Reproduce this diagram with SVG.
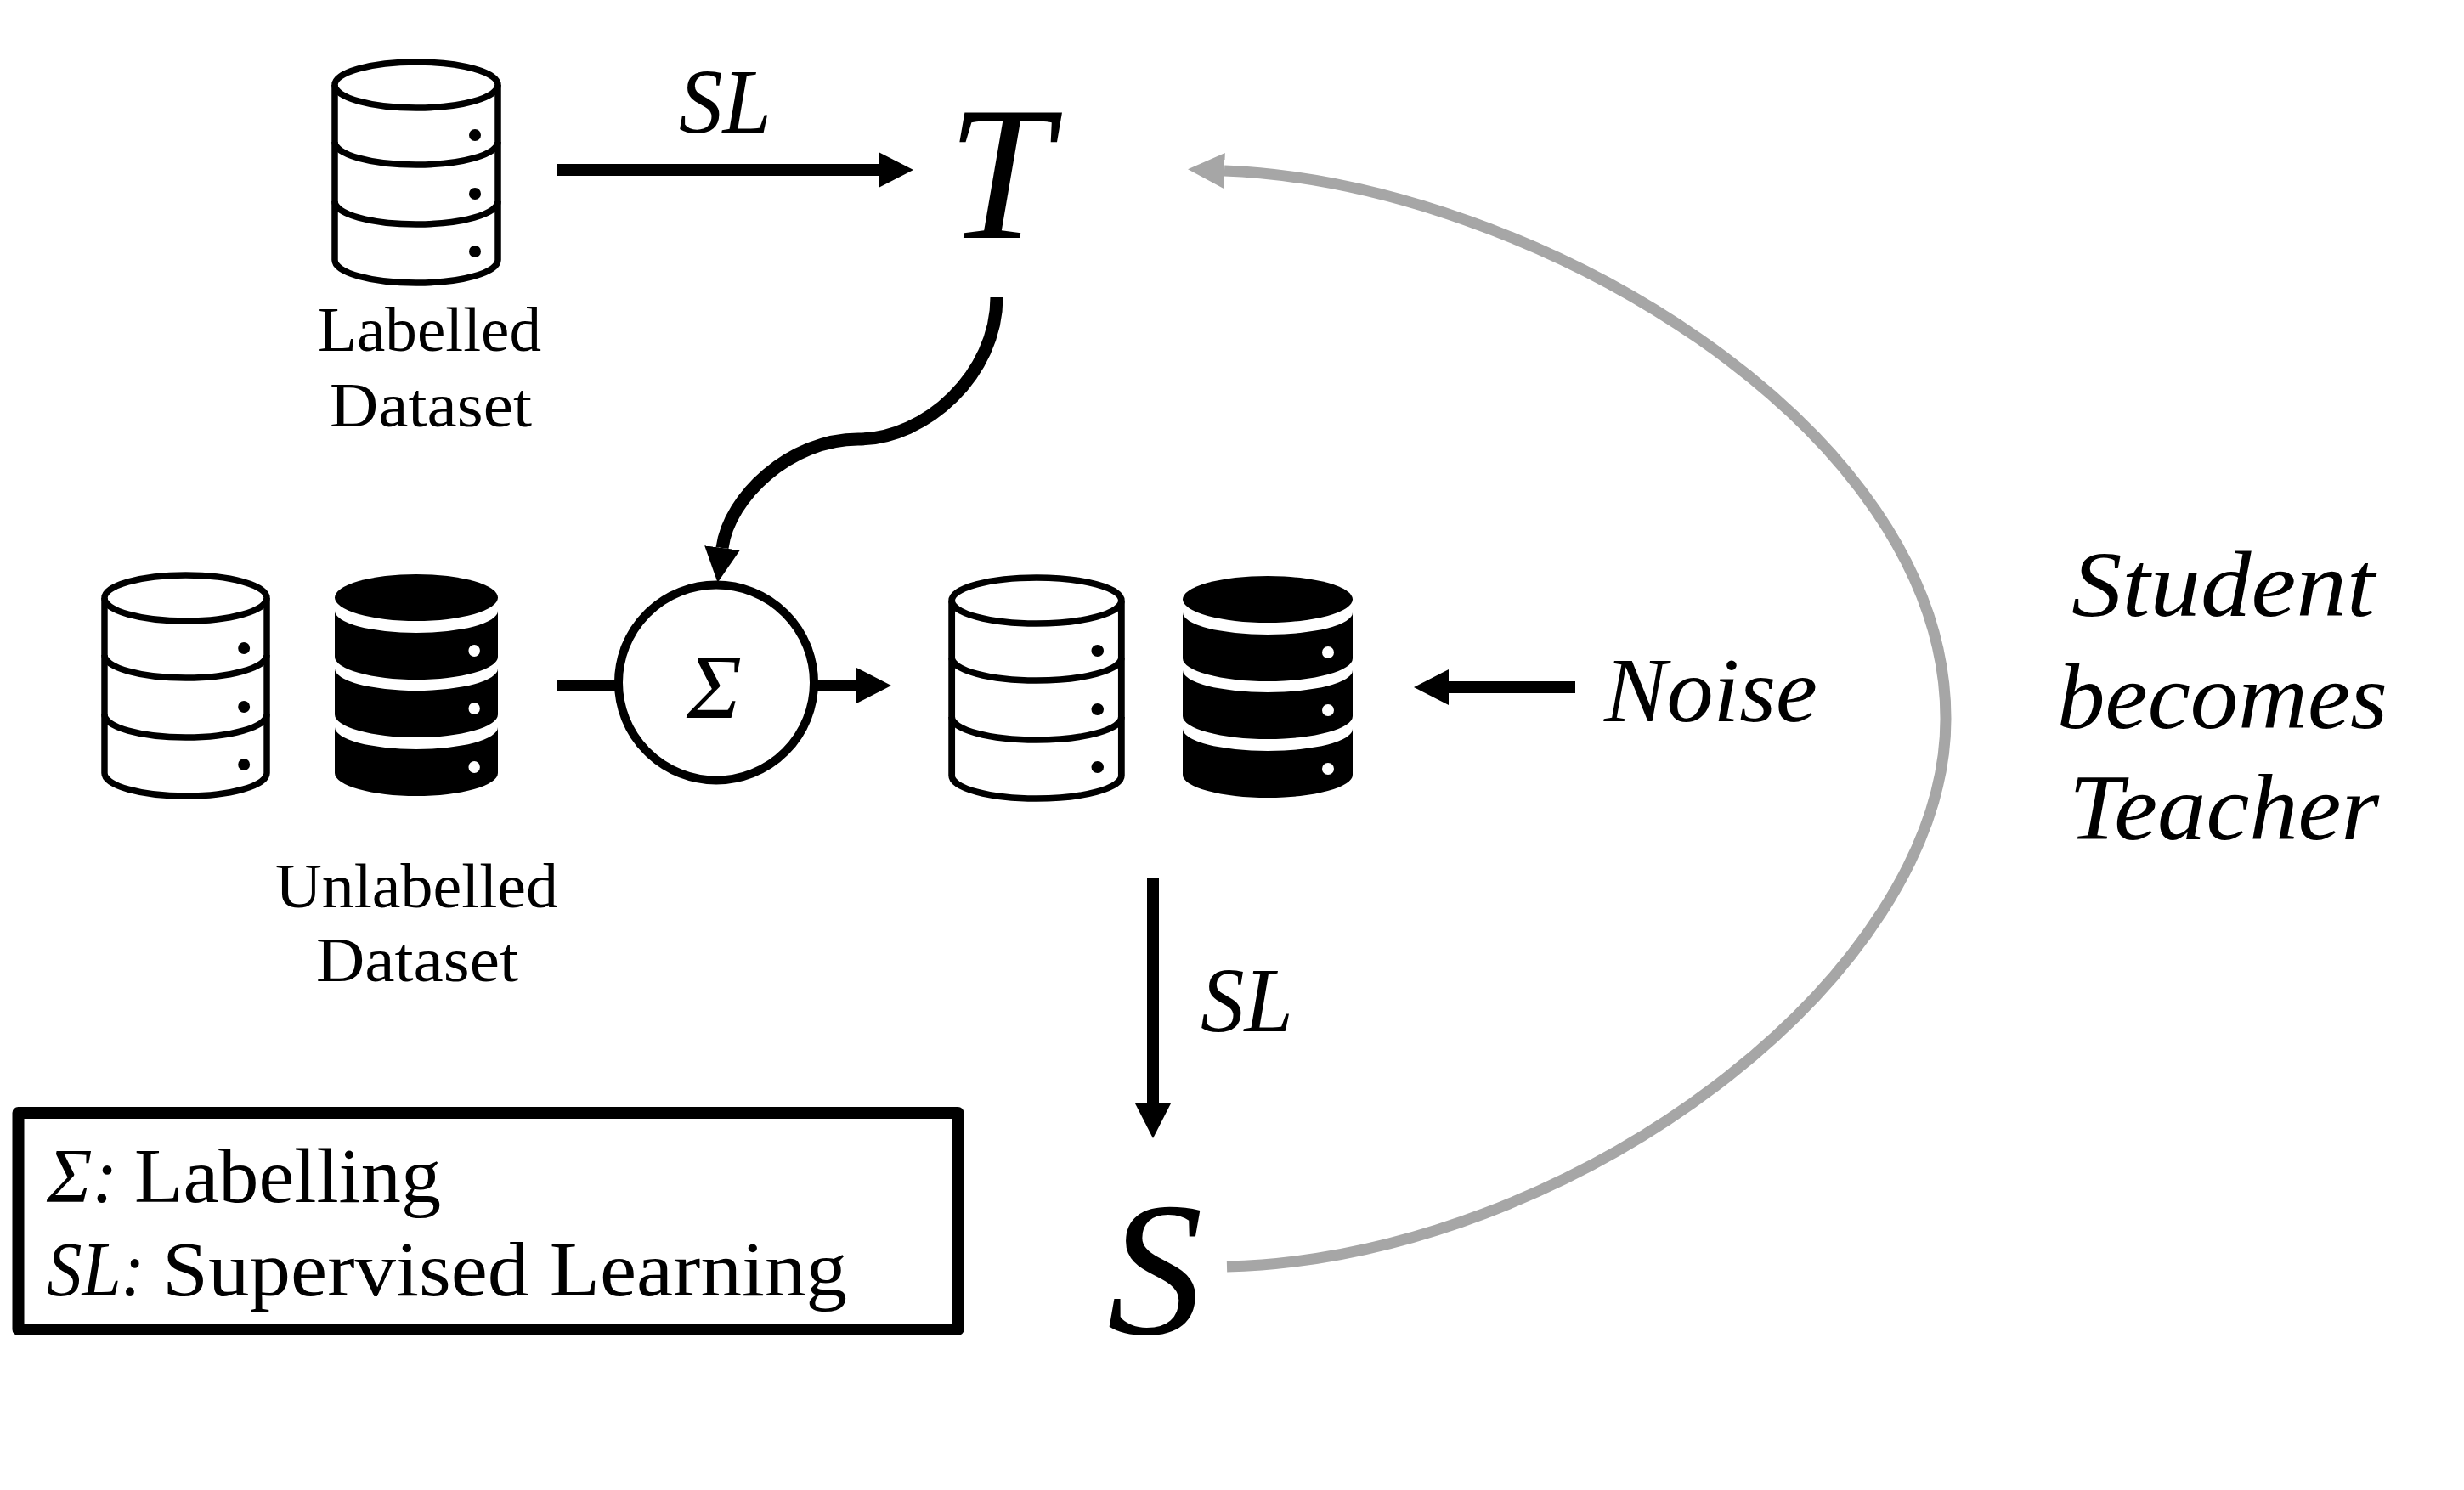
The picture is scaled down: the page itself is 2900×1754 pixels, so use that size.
<svg xmlns="http://www.w3.org/2000/svg" width="2900" height="1754" viewBox="0 0 2900 1754">
<style>
text{font-family:"Liberation Serif","Times New Roman",serif;fill:#000}
.i{font-style:italic}
.lab{font-size:74px}
.mid{font-size:108px}
.big{font-size:224px}
.leg{font-size:92px}
.sbt{font-size:110px}
.cl{fill:none;stroke:#000;stroke-width:14}
.gr{fill:none;stroke:#a6a6a6;stroke-width:13}
.ol{fill:#fff;stroke:none}
.olc{fill:none;stroke:#000;stroke-width:7.5}
</style>
<defs>
<marker id="ah" markerUnits="userSpaceOnUse" markerWidth="42" markerHeight="44" refX="0" refY="22" orient="auto"><path d="M0 1L41 22L0 43Z" fill="#000"/></marker>
<marker id="ag" markerUnits="userSpaceOnUse" markerWidth="44" markerHeight="44" refX="0" refY="22" orient="auto"><path d="M0 1L43 22L0 43Z" fill="#a6a6a6"/></marker>
<g id="cylO">
<path class="ol" d="M4 31V237A96 27 0 0 0 196 237V31Z"/>
<path class="olc" d="M4 31V237A96 27 0 0 0 196 237V31"/>
<ellipse class="olc" cx="100" cy="31" rx="96" ry="27"/>
<path class="olc" d="M4 98A96 27 0 0 0 196 98M4 168A96 27 0 0 0 196 168"/>
<circle cx="169" cy="90" r="7"/><circle cx="169" cy="159" r="7"/><circle cx="169" cy="227" r="7"/>
</g>
<g id="cylB">
<ellipse cx="100" cy="27.5" rx="100" ry="27.5"/>
<path d="M0 43A100 26 0 0 0 200 43V97A100 27 0 0 1 0 97Z"/>
<path d="M0 111A100 26 0 0 0 200 111V165A100 27 0 0 1 0 165Z"/>
<path d="M0 180A100 26 0 0 0 200 180V234A100 27 0 0 1 0 234Z"/>
<circle cx="171" cy="90" r="7" fill="#fff"/><circle cx="171" cy="158" r="7" fill="#fff"/><circle cx="171" cy="227" r="7" fill="#fff"/>
</g>
</defs>
<rect width="2900" height="1754" fill="#fff"/>
<g id="connectors">
<path class="cl" d="M655 200H1034" marker-end="url(#ah)"/>
<path class="cl" style="stroke-width:15" d="M1173 350C1173 440 1090 517 1010 517C930 517 858 585 850 645" marker-end="url(#ah)"/>
<path class="cl" d="M655 807H730"/>
<path class="cl" d="M955 807H1008" marker-end="url(#ah)"/>
<path class="cl" d="M1854 809H1705" marker-end="url(#ah)"/>
<path class="cl" d="M1357 1034V1299" marker-end="url(#ah)"/>
<path class="gr" d="M1444 1491C1850 1480 2290 1150 2290 846C2290 500 1800 215 1441 201" marker-end="url(#ag)"/>
</g>
<g id="labelled-dataset">
<use href="#cylO" transform="translate(390 69)"/>
<text class="lab" x="374" y="413" textLength="263" lengthAdjust="spacingAndGlyphs">Labelled</text>
<text class="lab" x="388" y="502" textLength="238" lengthAdjust="spacingAndGlyphs">Dataset</text>
</g>
<g id="unlabelled-dataset">
<use href="#cylO" transform="translate(119 673) scale(.995 1)"/>
<use href="#cylB" transform="translate(394 676) scale(.96 1)"/>
<text class="lab" x="324" y="1068" textLength="333" lengthAdjust="spacingAndGlyphs">Unlabelled</text>
<text class="lab" x="372" y="1155" textLength="238" lengthAdjust="spacingAndGlyphs">Dataset</text>
</g>
<g id="noised-dataset">
<use href="#cylO" transform="translate(1116 676) scale(1.04 1)"/>
<use href="#cylB" transform="translate(1392 678)"/>
</g>
<g id="sigma">
<circle cx="843" cy="803.5" r="115" fill="#fff" stroke="#000" stroke-width="10"/>
<text class="i mid" x="808" y="845" textLength="65" lengthAdjust="spacingAndGlyphs">Σ</text>
</g>
<g id="teacher"><text class="i big" x="1115" y="280" textLength="122" lengthAdjust="spacingAndGlyphs">T</text></g>
<g id="student"><text class="i big" x="1303" y="1570" textLength="113" lengthAdjust="spacingAndGlyphs">S</text></g>
<g id="sl-top"><text class="i mid" x="799" y="156" textLength="109" lengthAdjust="spacingAndGlyphs">SL</text></g>
<g id="sl-down"><text class="i mid" x="1413" y="1214" textLength="109" lengthAdjust="spacingAndGlyphs">SL</text></g>
<g id="noise"><text class="i mid" x="1888" y="849" textLength="251" lengthAdjust="spacingAndGlyphs">Noise</text></g>
<g id="student-becomes-teacher">
<text class="i sbt" x="2438" y="725" textLength="357" lengthAdjust="spacingAndGlyphs">Student</text>
<text class="i sbt" x="2421" y="857" textLength="389" lengthAdjust="spacingAndGlyphs">becomes</text>
<text class="i sbt" x="2435" y="988" textLength="365" lengthAdjust="spacingAndGlyphs">Teacher</text>
</g>
<g id="legend">
<rect x="21.5" y="1310" width="1106" height="255" fill="none" stroke="#000" stroke-width="14" stroke-linejoin="round"/>
<text class="leg" y="1415"><tspan class="i" x="55" textLength="106" lengthAdjust="spacingAndGlyphs">Σ: </tspan><tspan x="158" textLength="361" lengthAdjust="spacingAndGlyphs">Labelling</tspan></text>
<text class="leg" y="1525"><tspan class="i" x="55" textLength="136" lengthAdjust="spacingAndGlyphs">SL: </tspan><tspan x="191" textLength="806" lengthAdjust="spacingAndGlyphs">Supervised Learning</tspan></text>
</g>
</svg>
